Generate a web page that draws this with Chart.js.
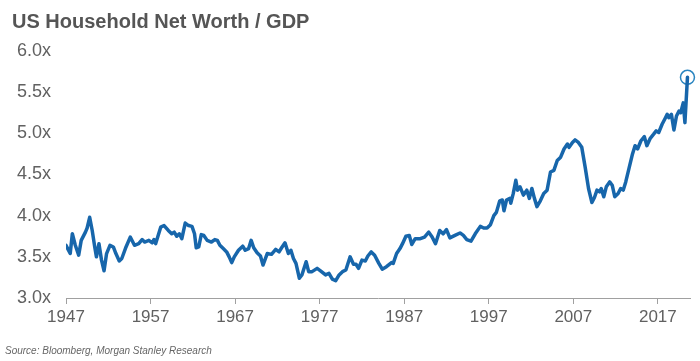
<!DOCTYPE html>
<html>
<head>
<meta charset="utf-8">
<script src="https://cdn.jsdelivr.net/npm/chart.js@4.4.1/dist/chart.umd.min.js"></script>
<style>
  html, body { margin: 0; padding: 0; background: #fff; }
  #wrap { position: relative; width: 700px; height: 361px; }
  #title {
    position: absolute; left: 12px; top: 11px;
    font: bold 20px "Liberation Sans", Arial, sans-serif; line-height: 20px;
    color: #555555; white-space: nowrap;
  }
  #source {
    position: absolute; left: 5px; top: 346px;
    font: italic 10px "Liberation Sans", Arial, sans-serif; line-height: 10px;
    color: #666666; white-space: nowrap;
  }
</style>
</head>
<body>
<div id="wrap">
  <canvas id="PlotCanvas" width="700" height="361"></canvas>
  <div id="title">US Household Net Worth / GDP</div>
  <div id="source">Source: Bloomberg, Morgan Stanley Research</div>
</div>
<script>
// tick labels
var xTicks = [1947, 1957, 1967, 1977, 1987, 1997, 2007, 2017];
var yTicks = [3.0, 3.5, 4.0, 4.5, 5.0, 5.5, 6.0];

// dates (decimal years) and household net worth / GDP
var years = [
    1947.0, 1947.5, 1947.75, 1948.1, 1948.5, 1948.8, 1949.3, 1949.5, 1949.8, 1950.1,
    1950.4, 1950.6, 1950.9, 1951.2, 1951.5, 1951.8, 1952.2, 1952.6, 1952.9, 1953.3,
    1953.6, 1954.1, 1954.6, 1955.1, 1955.6, 1956.0, 1956.3, 1956.8, 1957.2, 1957.4,
    1957.6, 1958.2, 1958.6, 1959.1, 1959.5, 1959.8, 1960.1, 1960.4, 1960.7, 1961.1,
    1961.5, 1961.9, 1962.2, 1962.4, 1962.7, 1963.0, 1963.3, 1963.7, 1964.2, 1964.6,
    1964.9, 1965.2, 1965.6, 1966.0, 1966.3, 1966.6, 1966.9, 1967.4, 1967.9, 1968.2,
    1968.6, 1968.9, 1969.2, 1969.6, 1970.0, 1970.3, 1970.8, 1971.3, 1971.8, 1972.2,
    1972.5, 1972.9, 1973.3, 1973.6, 1973.9, 1974.2, 1974.6, 1974.9, 1975.4, 1975.7,
    1976.1, 1976.7, 1977.1, 1977.7, 1978.1, 1978.5, 1978.9, 1979.3, 1979.7, 1980.1,
    1980.6, 1981.0, 1981.3, 1981.6, 1982.0, 1982.4, 1982.7, 1983.1, 1983.5, 1984.0,
    1984.4, 1984.9, 1985.5, 1985.7, 1986.1, 1986.5, 1986.8, 1987.2, 1987.6, 1987.9,
    1988.3, 1988.9, 1989.4, 1989.9, 1990.3, 1990.7, 1991.2, 1991.6, 1992.0, 1992.4,
    1993.0, 1993.6, 1994.0, 1994.4, 1994.9, 1995.4, 1996.0, 1996.4, 1996.8, 1997.2,
    1997.6, 1997.9, 1998.3, 1998.6, 1998.8, 1999.1, 1999.5, 1999.6, 1999.9, 2000.2,
    2000.4, 2000.7, 2001.1, 2001.5, 2001.8, 2002.1, 2002.4, 2002.7, 2003.1, 2003.5,
    2003.9, 2004.3, 2004.7, 2005.1, 2005.5, 2005.9, 2006.3, 2006.5, 2006.9, 2007.2,
    2007.6, 2008.0, 2008.4, 2008.8, 2009.2, 2009.5, 2009.8, 2010.1, 2010.3, 2010.6,
    2010.9, 2011.3, 2011.6, 2011.9, 2012.3, 2012.6, 2012.9, 2013.2, 2013.6, 2014.0,
    2014.3, 2014.6, 2015.0, 2015.4, 2015.7, 2016.1, 2016.5, 2016.8, 2017.1, 2017.5,
    2017.9, 2018.1, 2018.3, 2018.6, 2018.9, 2019.2, 2019.5, 2019.7, 2020.0, 2020.2,
    2020.5
];
var netWorthToGdp = [
    3.64, 3.54, 3.78, 3.64, 3.52, 3.70, 3.80, 3.85, 3.98, 3.82,
    3.62, 3.50, 3.66, 3.46, 3.33, 3.54, 3.64, 3.62, 3.54, 3.45,
    3.48, 3.62, 3.74, 3.64, 3.66, 3.71, 3.68, 3.70, 3.67, 3.71,
    3.66, 3.86, 3.88, 3.82, 3.78, 3.80, 3.75, 3.78, 3.72, 3.91,
    3.88, 3.87, 3.78, 3.61, 3.62, 3.77, 3.76, 3.70, 3.68, 3.71,
    3.70, 3.64, 3.60, 3.56, 3.50, 3.43, 3.50, 3.58, 3.63, 3.58,
    3.60, 3.70, 3.61, 3.55, 3.51, 3.40, 3.54, 3.53, 3.59, 3.56,
    3.61, 3.67, 3.54, 3.58, 3.48, 3.42, 3.24, 3.28, 3.44, 3.32,
    3.32, 3.36, 3.33, 3.28, 3.30, 3.23, 3.21, 3.28, 3.32, 3.34,
    3.50, 3.41, 3.41, 3.36, 3.46, 3.45, 3.51, 3.56, 3.52, 3.42,
    3.35, 3.38, 3.43, 3.42, 3.54, 3.60, 3.66, 3.75, 3.76, 3.65,
    3.72, 3.72, 3.74, 3.80, 3.74, 3.66, 3.82, 3.78, 3.83, 3.73,
    3.76, 3.79, 3.76, 3.71, 3.69, 3.78, 3.87, 3.85, 3.85, 3.89,
    4.00, 4.04, 4.18, 4.19, 4.06, 4.19, 4.21, 4.15, 4.27, 4.43,
    4.31, 4.35, 4.25, 4.31, 4.21, 4.33, 4.21, 4.11, 4.18, 4.27,
    4.31, 4.53, 4.55, 4.67, 4.71, 4.81, 4.87, 4.83, 4.89, 4.92,
    4.89, 4.83, 4.59, 4.33, 4.16, 4.22, 4.31, 4.29, 4.33, 4.23,
    4.35, 4.41, 4.37, 4.23, 4.27, 4.33, 4.31, 4.41, 4.58, 4.75,
    4.85, 4.81, 4.91, 4.96, 4.85, 4.94, 4.99, 5.03, 5.01, 5.11,
    5.19, 5.23, 5.19, 5.23, 5.04, 5.21, 5.27, 5.25, 5.37, 5.13,
    5.68
];

var lineBlue = '#1766ab';
var labelFont = { family: '"Liberation Sans", Arial, sans-serif', size: 17 };

var ctx = document.getElementById('PlotCanvas').getContext('2d');
var lastIdx = years.length - 1;

var data = {
    datasets: [{
        label: 'Net worth / GDP',
        borderColor: lineBlue,
        borderWidth: 3.5,
        borderJoinStyle: 'round',
        borderCapStyle: 'round',
        pointRadius: 0,
        tension: 0,
        data: years.map((y, i) => ({ x: y, y: netWorthToGdp[i] }))
    }, {
        label: 'Latest',
        showLine: false,
        pointRadius: 7,
        pointBorderWidth: 1.5,
        pointBorderColor: '#2a85c0',
        pointBackgroundColor: 'rgba(0,0,0,0)',
        clip: false,
        data: [{ x: years[lastIdx], y: netWorthToGdp[lastIdx] }]
    }]
};

var options = {
    responsive: false,
    animation: false,
    layout: { padding: { top: 51, right: 10, left: 0, bottom: 0 } },
    plugins: { legend: { display: false }, tooltip: { enabled: false } },
    scales: {
        x: {
            type: 'linear',
            position: 'bottom',
            min: 1947,
            max: 2020.8,
            afterBuildTicks: function (scale) {
                scale.ticks = xTicks.map(v => ({ value: v }));
            },
            afterFit: function (scale) { scale.height = 63; },
            grid: { display: true, drawOnChartArea: false, drawTicks: true, tickLength: 6, color: '#a0a0a0' },
            border: { display: true, color: '#a0a0a0', width: 1 },
            ticks: {
                autoSkip: false,
                maxRotation: 0,
                padding: 3,
                color: '#616161',
                font: labelFont,
                callback: v => String(v)
            }
        },
        y: {
            type: 'linear',
            position: 'left',
            min: 3,
            max: 6,
            afterBuildTicks: function (scale) {
                scale.ticks = yTicks.map(v => ({ value: v }));
            },
            afterFit: function (scale) { scale.width = 66; },
            grid: { display: false, drawTicks: false },
            border: { display: false },
            ticks: {
                padding: 15,
                color: '#616161',
                font: { family: labelFont.family, size: 18 },
                callback: v => v.toFixed(1) + 'x'
            }
        }
    }
};

new Chart(ctx, { type: 'line', data: data, options: options });
</script>
</body>
</html>
